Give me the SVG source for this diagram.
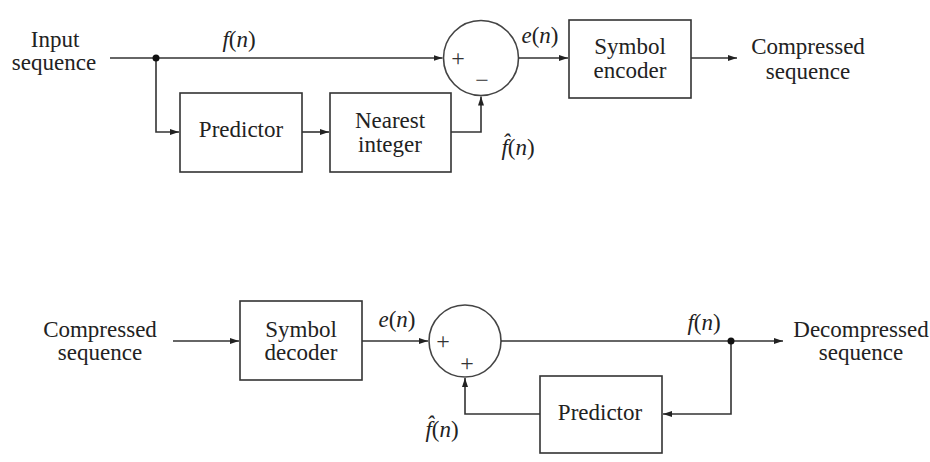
<svg xmlns="http://www.w3.org/2000/svg" width="930" height="462" viewBox="0 0 930 462">
<defs>
<marker id="arr" markerWidth="10" markerHeight="8" refX="9" refY="4" orient="auto" markerUnits="userSpaceOnUse">
<path d="M0,1 L9,4 L0,7 Z" fill="#222"/>
</marker>
<style>
.box{fill:none;stroke:#333;stroke-width:1.6}
.sum{fill:none;stroke:#444;stroke-width:1.6}
.wire{fill:none;stroke:#333;stroke-width:1.6}
text{font-family:'Liberation Serif','Times New Roman','DejaVu Serif',serif}
.lbl{font-size:23px;fill:#222;text-anchor:middle}
.sym{font-size:24px;fill:#333;text-anchor:middle}
.it{font-style:italic}
.dot{fill:#111}
</style>
</defs>
<rect width="930" height="462" fill="#fff"/>

<g id="input-label"><text class="lbl" x="55" y="47">Input</text><text class="lbl" x="54" y="70">sequence</text></g>
<g id="fn-top"><text class="lbl" x="239" y="47"><tspan class="it">f</tspan>(<tspan class="it">n</tspan>)</text></g>
<g id="predictor-top"><rect class="box" x="180" y="93" width="122" height="79"/><text class="lbl" x="241" y="137">Predictor</text></g>
<g id="nearest-integer"><rect class="box" x="330" y="93" width="121" height="79"/><text class="lbl" x="390" y="128">Nearest</text><text class="lbl" x="390" y="152">integer</text></g>
<g id="sum-top"><circle class="sum" cx="481" cy="58" r="37.5"/><text class="sym" x="458" y="66">+</text><text class="sym" x="482" y="88">−</text></g>
<g id="en-top"><text class="lbl" x="540" y="43"><tspan class="it">e</tspan>(<tspan class="it">n</tspan>)</text></g>
<g id="fhat-top"><text class="lbl" x="518" y="155"><tspan class="it">f̂</tspan>(<tspan class="it">n</tspan>)</text></g>
<g id="symbol-encoder"><rect class="box" x="569" y="20" width="122" height="78"/><text class="lbl" x="630" y="54">Symbol</text><text class="lbl" x="630" y="78">encoder</text></g>
<g id="compressed-out"><text class="lbl" x="808" y="54">Compressed</text><text class="lbl" x="808" y="79">sequence</text></g>

<g id="compressed-in"><text class="lbl" x="100" y="337">Compressed</text><text class="lbl" x="100" y="360">sequence</text></g>
<g id="symbol-decoder"><rect class="box" x="240" y="301" width="122" height="79"/><text class="lbl" x="301" y="337">Symbol</text><text class="lbl" x="301" y="360">decoder</text></g>
<g id="en-bottom"><text class="lbl" x="397" y="327"><tspan class="it">e</tspan>(<tspan class="it">n</tspan>)</text></g>
<g id="sum-bottom"><circle class="sum" cx="465" cy="341" r="36"/><text class="sym" x="443" y="349">+</text><text class="sym" x="467" y="371">+</text></g>
<g id="fhat-bottom"><text class="lbl" x="442" y="437"><tspan class="it">f̂</tspan>(<tspan class="it">n</tspan>)</text></g>
<g id="fn-bottom"><text class="lbl" x="704" y="330"><tspan class="it">f</tspan>(<tspan class="it">n</tspan>)</text></g>
<g id="predictor-bottom"><rect class="box" x="540" y="376" width="122" height="77"/><text class="lbl" x="600" y="420">Predictor</text></g>
<g id="decompressed-out"><text class="lbl" x="861" y="337">Decompressed</text><text class="lbl" x="861" y="360">sequence</text></g>

<g id="connectors">
<path class="wire" d="M110,58 H442.5" marker-end="url(#arr)"/>
<path class="wire" d="M156,58 V132 H179" marker-end="url(#arr)"/>
<path class="wire" d="M302,132 H329" marker-end="url(#arr)"/>
<path class="wire" d="M451,132 H481 V96.5" marker-end="url(#arr)"/>
<path class="wire" d="M518.5,58 H568" marker-end="url(#arr)"/>
<path class="wire" d="M691,58 H737" marker-end="url(#arr)"/>
<circle class="dot" cx="156" cy="58" r="3.5"/>

<path class="wire" d="M173,341 H239" marker-end="url(#arr)"/>
<path class="wire" d="M362,341 H428" marker-end="url(#arr)"/>
<path class="wire" d="M501,341 H783" marker-end="url(#arr)"/>
<path class="wire" d="M731,341 V414 H663" marker-end="url(#arr)"/>
<path class="wire" d="M540,414 H465 V378" marker-end="url(#arr)"/>
<circle class="dot" cx="731" cy="341" r="3.5"/>
</g>
</svg>
